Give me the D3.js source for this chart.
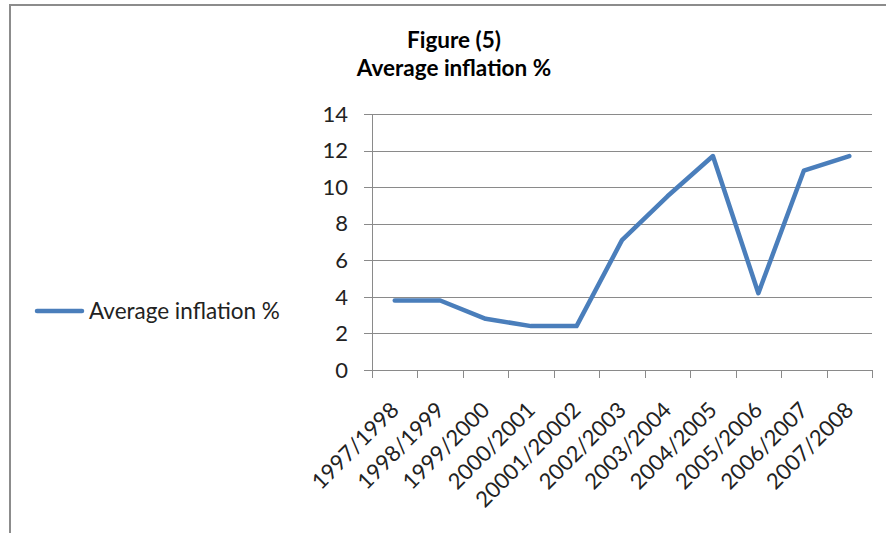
<!DOCTYPE html>
<html>
<head>
<meta charset="utf-8">
<script src="https://cdn.jsdelivr.net/npm/d3@7"></script>
<style>
  body { margin: 0; background: #fff; }
  svg { display: block; font-family: Lato, "Noto Sans", sans-serif; }
</style>
</head>
<body>
<script>
// chart data
var years = ["1997/1998", "1998/1999", "1999/2000", "2000/2001", "20001/20002", "2002/2003",
             "2003/2004", "2004/2005", "2005/2006", "2006/2007", "2007/2008"];
var inflation = [3.8, 3.8, 2.8, 2.4, 2.4, 7.1, 9.5, 11.7, 4.2, 10.9, 11.7];
var yTicks = [0, 2, 4, 6, 8, 10, 12, 14];
var seriesName = "Average inflation %";
var titleLines = ["Figure (5)", "Average inflation %"];

var W = 886, H = 533;
var margin = {top: 114, left: 372, right: 14, bottom: 163};
var width = W - margin.left - margin.right,
    height = H - margin.top - margin.bottom;

var svg = d3.select("body").append("svg")
    .attr("width", W)
    .attr("height", H);

// outer frame (only top and left edges visible)
svg.append("path")
    .attr("d", "M10," + H + "V5H" + W)
    .attr("fill", "none")
    .attr("stroke", "#8c8c8c")
    .attr("stroke-width", 2);

// title
svg.selectAll(".title")
    .data(titleLines)
  .enter().append("text")
    .attr("class", "title")
    .attr("x", 454)
    .attr("y", function(d, i) { return 48 + i * 28; })
    .attr("text-anchor", "middle")
    .style("font-weight", "bold")
    .style("font-size", "22.5px")
    .text(function(d) { return d; });

var g = svg.append("g")
    .attr("transform", "translate(" + margin.left + "," + margin.top + ")");

var x = d3.scaleBand().domain(years).range([0, width]).padding(0);
var y = d3.scaleLinear().domain([0, 14]).range([height, 0]);

// gridlines
g.selectAll(".grid")
    .data(yTicks)
  .enter().append("line")
    .attr("x1", -8)
    .attr("x2", width)
    .attr("y1", function(d) { return Math.round(y(d)) + 0.5; })
    .attr("y2", function(d) { return Math.round(y(d)) + 0.5; })
    .attr("stroke", "#8a8a8a")
    .attr("stroke-width", 1);

// y axis line
g.append("line")
    .attr("x1", 0.5).attr("x2", 0.5)
    .attr("y1", 0).attr("y2", height)
    .attr("stroke", "#8a8a8a");

// y labels
g.selectAll(".ylab")
    .data(yTicks)
  .enter().append("text")
    .attr("x", -24)
    .attr("y", function(d) { return y(d); })
    .attr("dy", "0.35em")
    .attr("text-anchor", "end")
    .style("font-size", "22px")
    .style("fill", "#222")
    .text(function(d) { return d; });

// x tick marks at band edges
var edges = years.map(function(d) { return x(d); }).concat([width]);
g.selectAll(".xtick")
    .data(edges)
  .enter().append("line")
    .attr("x1", function(d) { return Math.round(d) + 0.5; })
    .attr("x2", function(d) { return Math.round(d) + 0.5; })
    .attr("y1", height)
    .attr("y2", height + 8)
    .attr("stroke", "#8a8a8a");

// x labels, rotated
g.selectAll(".xlab")
    .data(years)
  .enter().append("text")
    .attr("transform", function(d) {
      return "translate(" + (x(d) + x.bandwidth() / 2) + "," + (height + 36) + ") rotate(-45)";
    })
    .attr("dy", "0.35em")
    .attr("text-anchor", "end")
    .style("font-size", "22px")
    .style("fill", "#222")
    .text(function(d) { return d; });

// series line
var line = d3.line()
    .x(function(d, i) { return x(years[i]) + x.bandwidth() / 2; })
    .y(function(d) { return y(d); });

g.append("path")
    .datum(inflation)
    .attr("d", line)
    .attr("fill", "none")
    .attr("stroke", "#4a7ebb")
    .attr("stroke-width", 4.5)
    .attr("stroke-linejoin", "round")
    .attr("stroke-linecap", "round");

// legend
svg.append("line")
    .attr("x1", 37).attr("x2", 82)
    .attr("y1", 311).attr("y2", 311)
    .attr("stroke", "#4a7ebb")
    .attr("stroke-width", 4.5)
    .attr("stroke-linecap", "round");

svg.append("text")
    .attr("x", 89)
    .attr("y", 311)
    .attr("dy", "0.35em")
    .style("font-size", "22.5px")
    .style("fill", "#222")
    .text(seriesName);
</script>
</body>
</html>
